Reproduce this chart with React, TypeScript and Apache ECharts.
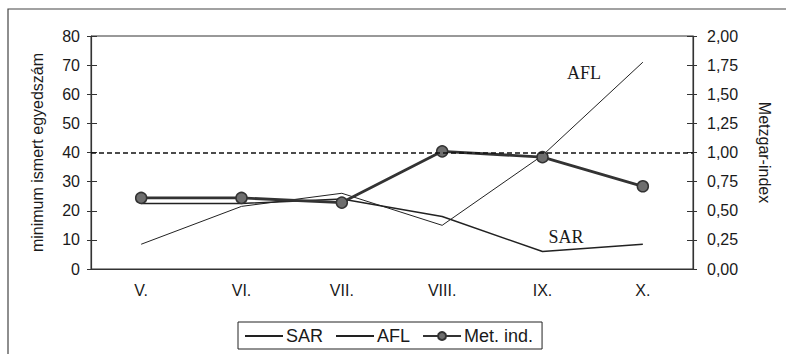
import React, { useEffect, useRef } from "react";
import * as echarts from "echarts";

const months = ["V.", "VI.", "VII.", "VIII.", "IX.", "X."];
const sarValues = [22.5, 22.5, 24, 18, 6, 8.5];
const aflValues = [8.5, 21.5, 26, 15, 39, 71];
const metIndValues = [0.61, 0.61, 0.57, 1.01, 0.96, 0.71];
const referenceLevel = 40;
const leftAxisName = "minimum ismert egyedszám";
const rightAxisName = "Metzgar-index";

const FONT = "'Liberation Sans', Arial, sans-serif";
const SERIF = "'Liberation Serif', 'Times New Roman', serif";

export default function App() {
  const ref = useRef<HTMLDivElement>(null);
  useEffect(() => {
    if (!ref.current) return;
    const chart = echarts.init(ref.current, null, { renderer: "svg" });
    const axisColor = "#333";
    const labelStyle = { color: "#1a1a1a", fontFamily: FONT, fontSize: 16 };
    const hiddenSymbol = { opacity: 0, borderWidth: 0 };
    chart.setOption({
      animation: false,
      backgroundColor: "#fff",
      grid: {
        left: 91,
        right: 93,
        top: 36,
        bottom: 85,
        show: true,
        borderColor: axisColor,
        borderWidth: 1,
      },
      legend: {
        left: 238,
        top: 322,
        padding: [5, 9, 4, 6],
        borderColor: "#222",
        borderWidth: 1,
        itemWidth: 38,
        itemHeight: 10,
        itemGap: 12,
        textStyle: { color: "#1a1a1a", fontFamily: FONT, fontSize: 18, padding: [0, 0, 0, -2] },
        data: [
          { name: "SAR", itemStyle: hiddenSymbol },
          { name: "AFL", itemStyle: hiddenSymbol },
          { name: "Met. ind." },
        ],
      },
      xAxis: [
        {
          type: "category",
          data: months,
          boundaryGap: true,
          axisLine: { lineStyle: { color: axisColor, width: 1.2 } },
          axisTick: { length: 4, lineStyle: { color: axisColor } },
          axisLabel: { ...labelStyle, margin: 13 },
        },
        {
          type: "category",
          data: months,
          position: "bottom",
          boundaryGap: true,
          axisLine: { show: false },
          axisTick: { inside: true, length: 4, lineStyle: { color: axisColor } },
          axisLabel: { show: false },
        },
      ],
      yAxis: [
        {
          type: "value",
          min: 0,
          max: 80,
          interval: 10,
          position: "left",
          name: leftAxisName,
          nameLocation: "middle",
          nameGap: 46,
          nameTextStyle: { color: "#1a1a1a", fontFamily: FONT, fontSize: 16 },
          axisLine: { show: true, lineStyle: { color: axisColor, width: 1.2 } },
          axisTick: { show: true, length: 4, lineStyle: { color: axisColor } },
          axisLabel: { ...labelStyle, margin: 11 },
          splitLine: { show: false },
        },
        {
          type: "value",
          min: 0,
          max: 2,
          interval: 0.25,
          position: "right",
          name: rightAxisName,
          nameLocation: "middle",
          nameGap: 63,
          nameRotate: -90,
          nameTextStyle: { color: "#1a1a1a", fontFamily: FONT, fontSize: 16 },
          axisLine: { show: true, lineStyle: { color: axisColor, width: 1.2 } },
          axisTick: { show: true, length: 4, lineStyle: { color: axisColor } },
          axisLabel: {
            ...labelStyle,
            margin: 14,
            formatter: (v: number) => v.toFixed(2).replace(".", ","),
          },
          splitLine: { show: false },
        },
        {
          type: "value",
          min: 0,
          max: 80,
          interval: 10,
          position: "left",
          axisLine: { show: false },
          axisTick: { show: true, inside: true, length: 6, lineStyle: { color: axisColor } },
          axisLabel: { show: false },
          splitLine: { show: false },
        },
        {
          type: "value",
          min: 0,
          max: 2,
          interval: 0.25,
          position: "right",
          axisLine: { show: false },
          axisTick: { show: true, inside: true, length: 6, lineStyle: { color: axisColor } },
          axisLabel: { show: false },
          splitLine: { show: false },
        },
      ],
      series: [
        {
          name: "SAR",
          type: "line",
          yAxisIndex: 0,
          data: sarValues,
          symbol: "none",
          lineStyle: { color: "#222", width: 1.5 },
          itemStyle: { color: "#222" },
          z: 3,
          markLine: {
            silent: true,
            symbol: "none",
            label: { show: false },
            lineStyle: { color: "#111", type: [5, 3], width: 1.5 },
            data: [{ yAxis: referenceLevel }],
          },
        },
        {
          name: "AFL",
          type: "line",
          yAxisIndex: 0,
          data: aflValues,
          symbol: "none",
          lineStyle: { color: "#222", width: 1 },
          itemStyle: { color: "#222" },
          z: 3,
        },
        {
          name: "Met. ind.",
          type: "line",
          yAxisIndex: 1,
          data: metIndValues,
          symbol: "circle",
          symbolSize: 11,
          lineStyle: { color: "#333", width: 2.8 },
          itemStyle: { color: "#6e6e6e", borderColor: "#333", borderWidth: 1.5 },
          z: 4,
        },
      ],
      graphic: [
        {
          type: "polyline",
          shape: { points: [[8, 360], [8, 9], [790, 9]] },
          style: { stroke: "#444", lineWidth: 1.2, fill: "none" },
          silent: true,
        },
        {
          type: "text",
          x: 584,
          y: 73,
          style: {
            text: "AFL",
            fontFamily: SERIF,
            fontSize: 18,
            fill: "#1a1a1a",
            align: "center",
            verticalAlign: "middle",
          },
        },
        {
          type: "text",
          x: 566,
          y: 237,
          style: {
            text: "SAR",
            fontFamily: SERIF,
            fontSize: 18,
            fill: "#1a1a1a",
            align: "center",
            verticalAlign: "middle",
          },
        },
      ],
    });
    return () => chart.dispose();
  }, []);
  return <div ref={ref} style={{ width: 786, height: 354, position: "absolute", left: 0, top: 0 }} />;
}
